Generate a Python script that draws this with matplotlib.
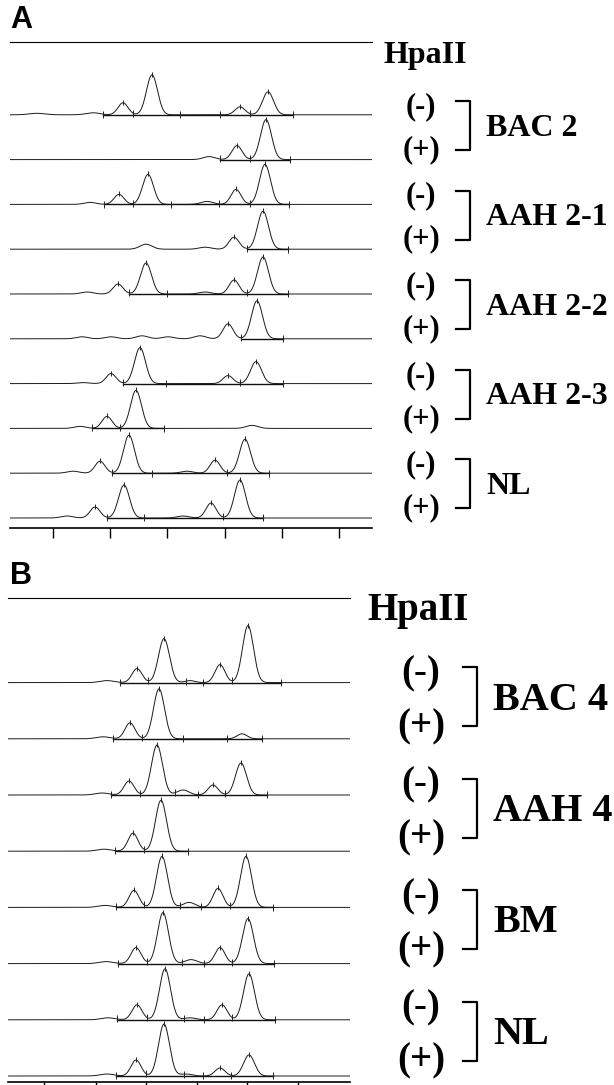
import numpy as np
import matplotlib.pyplot as plt

# HpaII digestion traces.
# each peak: (position, height, width) in scan units; cuts = integration marks
peaks_a = [
    [(27, 1.5, 8), (83, 2, 7), (113, 12, 5), (142, 40, 5.5), (230, 8, 5), (258, 23, 5.5)],
    [(199, 3, 6), (227, 14, 5), (256, 40, 5.5)],
    [(80, 2, 6), (109, 10, 5), (138, 30, 5.5), (197, 3, 6), (226, 15, 5), (255, 40, 5.5)],
    [(136, 5, 6), (195, 2, 6), (224, 12, 5), (253, 38, 5.5)],
    [(77, 2, 6), (108, 10, 5), (136, 31, 5.5), (195, 2, 6), (224, 14, 5), (253, 37, 5.5)],
    [(72, 2, 6), (101, 2, 6), (132, 3, 6), (158, 2, 6), (190, 3, 6), (218, 15, 5), (247, 38, 5.5)],
    [(73, 1, 6), (101, 10, 5), (130, 36, 5.5), (218, 8, 5), (246, 22, 5.5)],
    [(70, 2, 6), (97, 12, 5), (126, 38, 5.5), (242, 3, 6)],
    [(63, 2, 6), (90, 12, 5), (119, 38, 5.5), (177, 2, 6), (205, 13, 5), (235, 34, 5.5)],
    [(57, 2, 6), (85, 11, 5), (114, 33, 5.5), (173, 2, 6), (201, 15, 5), (230, 38, 5.5)],
]
cuts_a = [
    [93, 123, 170, 210, 240, 283],
    [210, 240, 280],
    [94, 123, 161, 209, 240, 279],
    [237, 278],
    [119, 157, 237, 278],
    [231, 273],
    [113, 156, 230, 273],
    [82, 110, 154],
    [102, 142, 217, 259],
    [97, 134, 213, 253],
]
peaks_b = [
    [(99, 2, 7), (129, 14, 5), (156, 44, 5.5), (182, 2, 5), (212, 18, 5), (240, 57, 5.5)],
    [(95, 2, 7), (122, 16, 5), (151, 50, 5.5), (234, 5, 5)],
    [(94, 2, 7), (121, 14, 5), (149, 50, 5.5), (175, 5, 6), (205, 10, 5), (233, 32, 5.5)],
    [(96, 2, 7), (125, 18, 5), (153, 51, 5.5)],
    [(97, 2, 7), (126, 17, 5), (154, 51, 5.5), (181, 5, 6), (210, 19, 5), (238, 51, 5.5)],
    [(98, 2, 7), (128, 16, 5), (155, 51, 5.5), (183, 4, 6), (212, 16, 5), (240, 45, 5.5)],
    [(100, 2, 7), (129, 15, 5), (157, 51, 5.5), (182, 2, 6), (214, 15, 5), (241, 46, 5.5)],
    [(99, 2, 7), (128, 16, 5), (156, 52, 5.5), (178, 2, 6), (212, 8, 5), (241, 21, 5.5)],
]
cuts_b = [
    [112, 140, 178, 195, 224, 273],
    [105, 134, 175, 219, 254],
    [103, 132, 167, 190, 217, 259],
    [107, 136, 180],
    [108, 136, 172, 193, 222, 265],
    [110, 139, 174, 196, 224, 266],
    [109, 139, 176, 196, 224, 267],
    [108, 138, 176, 195, 223, 265],
]
ticks_a = [43, 100, 157, 215, 272, 329]
ticks_b = [36, 88, 138, 189, 239, 290]
groups_a = ["BAC 2", "AAH 2-1", "AAH 2-2", "AAH 2-3", "NL"]
groups_b = ["BAC 4", "AAH 4", "BM", "NL"]

W, H = 614, 1085
fig = plt.figure(figsize=(W / 100, H / 100), dpi=100)


def trace(x, peaks):
    x = np.asarray(x, dtype=float)
    y = np.zeros_like(x)
    for c, h, s in peaks:
        y += h * np.exp(-0.5 * ((x - c) / s) ** 2)
    return y


def panel(left, right, top, bottom, peaks, cuts, ticks, step, base0):
    ax = fig.add_axes([left / W, 1 - bottom / H, (right - left) / W, (bottom - top) / H])
    width = right - left
    ax.set_xlim(0, width)
    ax.set_ylim(0, bottom - top)
    x = np.linspace(0, width, 1500)
    n = len(peaks)
    for i, pk in enumerate(peaks):
        off = base0 + step * (n - 1 - i)
        ax.plot(x, trace(x, pk) + off, color="#1a1a1a", lw=0.7)
        # integration baseline and marks
        cx = np.array(cuts[i], dtype=float)
        cy = trace(cx, pk) + off
        ax.plot([cx[0], cx[-1]], [off, off], color="#111", lw=1.0)
        ax.vlines(cx, cy - 3.5, cy + 3.5, color="#222", lw=0.7)
        big = [c for c, h, s in pk if h >= 8]
        ty = trace(big, pk) + off
        ax.vlines(big, ty - 2, ty + 3, color="#222", lw=0.7)
    for s in ["left", "right"]:
        ax.spines[s].set_visible(False)
    ax.spines["top"].set_linewidth(0.8)
    ax.spines["bottom"].set_linewidth(1.2)
    ax.set_yticks([])
    ax.set_xticks(ticks)
    ax.tick_params(axis="x", direction="out", length=7, width=1.0, labelbottom=False)
    return ax


panel(10, 372, 42, 528, peaks_a, cuts_a, ticks_a, 44.8, 10)
panel(8, 350, 598, 1082, peaks_b, cuts_b, ticks_b, 56.2, 6)

serif = dict(family="Liberation Serif", weight="bold", color="black")


def ftext(x, y, s, size, **kw):
    fig.text(x / W, 1 - y / H, s, fontsize=size, **kw)


ftext(10, 20, "A", 22, family="Liberation Sans", weight="bold", va="center")
ftext(10, 576, "B", 22, family="Liberation Sans", weight="bold", va="center")


def labels(hx, hy, groups, y0, step, dpm, xpm, xbr, xlab, fs_h, fs_pm, fs_g):
    ftext(hx, hy, "HpaII", fs_h, va="baseline", **serif)
    for k, g in enumerate(groups):
        ym = y0 + step * k
        yp = ym + dpm
        ftext(xpm, ym, "(-)", fs_pm, ha="center", va="center_baseline", **serif)
        ftext(xpm, yp, "(+)", fs_pm, ha="center", va="center_baseline", **serif)
        ftext(xlab, (ym + yp) / 2, g, fs_g, va="center_baseline", **serif)
        bx = [xbr - 14, xbr, xbr, xbr - 14]
        by = [ym - 2, ym - 2, yp + 4, yp + 4]
        fig.add_artist(plt.Line2D([v / W for v in bx], [1 - v / H for v in by],
                                  color="black", lw=1.6))


labels(383, 63, groups_a, 103, 89.6, 43, 421, 470, 486, 23, 22, 23)
labels(367, 620, groups_b, 669, 111.5, 53, 421, 477, 493, 28, 28, 29)

fig.savefig("out.png", dpi=100)
